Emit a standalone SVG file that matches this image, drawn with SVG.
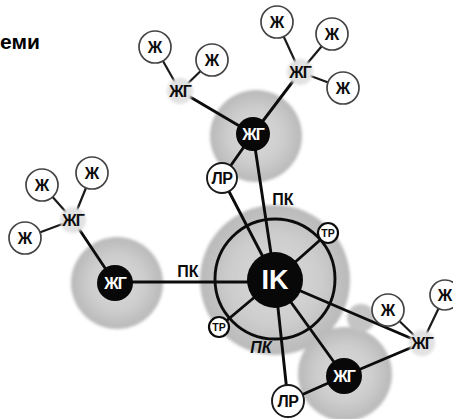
<svg xmlns="http://www.w3.org/2000/svg" width="453" height="419" viewBox="0 0 453 419">
<defs>
<filter id="blur" x="-30%" y="-30%" width="160%" height="160%"><feGaussianBlur stdDeviation="1.8"/></filter>
<filter id="soft" x="-50%" y="-50%" width="200%" height="200%"><feGaussianBlur stdDeviation="1.5"/></filter>
<radialGradient id="halo" cx="50%" cy="50%" r="50%">
<stop offset="0" stop-color="#dadada"/>
<stop offset="0.6" stop-color="#cdcdcd"/>
<stop offset="1" stop-color="#b9b9b9"/>
</radialGradient>
<style>
text{font-family:"Liberation Sans",Arial,sans-serif;font-weight:bold;text-anchor:middle;dominant-baseline:central}
.ln{stroke:#0c0c0c;stroke-width:2.9;fill:none;stroke-linecap:round}
.tn{stroke:#1a1a1a;stroke-width:2.2;fill:none}
.zh{fill:#fff;stroke:#444;stroke-width:1.7}
.zht{font-size:16px;fill:#0c0c0c}
.lg{fill:#e2e2e2}
.lgt{font-size:16px;fill:#0c0c0c;letter-spacing:-1px}
.blk{fill:#080808}
.blkt{font-size:16px;fill:#fff;letter-spacing:-1px}
.lr{fill:#fff;stroke:#1a1a1a;stroke-width:1.9}
.lrt{font-size:16px;fill:#0c0c0c;letter-spacing:-0.5px}
.tr{fill:#fff;stroke:#0c0c0c;stroke-width:2.2}
.trt{font-size:10.5px;fill:#0c0c0c}
.lab{font-size:16px;fill:#0c0c0c}
</style>
</defs>
<rect width="453" height="419" fill="#fff"/>
<text x="20" y="41" style="font-size:21px">еми</text>

<g id="halos" filter="url(#blur)">
<circle cx="275" cy="280" r="75" fill="url(#halo)"/>
<circle cx="345" cy="374" r="47" fill="url(#halo)"/>
<circle cx="361" cy="318" r="14" fill="#c4c4c4"/>
<circle cx="256" cy="136" r="46" fill="url(#halo)"/>
<circle cx="117" cy="283" r="46" fill="url(#halo)"/>
</g>

<g id="connectors">
<circle cx="275" cy="279" r="60" class="ln"/>
<line class="ln" x1="115" y1="282" x2="275" y2="282"/>
<line class="ln" x1="253" y1="134" x2="275" y2="280"/>
<line class="ln" x1="222" y1="178" x2="275" y2="280"/>
<line class="ln" x1="275" y1="280" x2="328" y2="233"/>
<line class="ln" x1="275" y1="280" x2="219" y2="327"/>
<line class="ln" x1="275" y1="280" x2="422" y2="343"/>
<line class="ln" x1="275" y1="280" x2="344" y2="376"/>
<line class="ln" x1="275" y1="280" x2="288" y2="401"/>
<line class="ln" x1="288" y1="401" x2="344" y2="376"/>
<line class="ln" x1="344" y1="376" x2="422" y2="343"/>
<line class="ln" x1="253" y1="134" x2="222" y2="178"/>
<line class="ln" x1="253" y1="134" x2="180" y2="91"/>
<line class="ln" x1="253" y1="134" x2="300" y2="72"/>
<line class="ln" x1="115" y1="283" x2="73" y2="220"/>
<line class="tn" x1="180" y1="91" x2="155" y2="47"/>
<line class="tn" x1="180" y1="91" x2="212" y2="60"/>
<line class="tn" x1="300" y1="72" x2="277" y2="22"/>
<line class="tn" x1="300" y1="72" x2="332" y2="34"/>
<line class="tn" x1="300" y1="72" x2="343" y2="88"/>
<line class="tn" x1="73" y1="220" x2="42" y2="185"/>
<line class="tn" x1="73" y1="220" x2="92" y2="173"/>
<line class="tn" x1="73" y1="220" x2="25" y2="238"/>
<line class="tn" x1="422" y1="343" x2="388" y2="310"/>
<line class="tn" x1="422" y1="343" x2="445" y2="295"/>
</g>

<g id="labels">
<text class="lab" x="283" y="199">ПК</text>
<text class="lab" x="188" y="271">ПК</text>
<text class="lab" x="261" y="347" style="font-style:italic">ПК</text>
</g>

<g id="IK"><circle cx="275" cy="280" r="28" class="blk"/><text x="275" y="280" style="font-size:27px;fill:#fff">IK</text></g>
<g id="TR1"><circle cx="328" cy="233" r="10" class="tr"/><text class="trt" x="328" y="233">ТР</text></g>
<g id="TR2"><circle cx="219" cy="327" r="10" class="tr"/><text class="trt" x="219" y="327">ТР</text></g>

<g id="ZhG-top"><circle cx="253" cy="134" r="17" class="blk"/><text class="blkt" x="253" y="134">ЖГ</text></g>
<g id="ZhG-left"><circle cx="115" cy="283" r="18" class="blk"/><text class="blkt" x="115" y="283">ЖГ</text></g>
<g id="ZhG-bottom"><circle cx="344" cy="376" r="18" class="blk"/><text class="blkt" x="344" y="376">ЖГ</text></g>

<g id="LR-top"><circle cx="222" cy="178" r="15" class="lr"/><text class="lrt" x="222" y="178">ЛР</text></g>
<g id="LR-bottom"><circle cx="288" cy="401" r="16" class="lr"/><text class="lrt" x="288" y="401">ЛР</text></g>

<g id="zhg-tl"><circle cx="180" cy="91" r="13" class="lg" filter="url(#soft)"/><text class="lgt" x="180" y="91">ЖГ</text></g>
<g id="zhg-tr"><circle cx="300" cy="72" r="13" class="lg" filter="url(#soft)"/><text class="lgt" x="300" y="72">ЖГ</text></g>
<g id="zhg-l"><circle cx="73" cy="220" r="13" class="lg" filter="url(#soft)"/><text class="lgt" x="73" y="220">ЖГ</text></g>
<g id="zhg-br"><circle cx="422" cy="343" r="13" class="lg" filter="url(#soft)"/><text class="lgt" x="422" y="343">ЖГ</text></g>

<g id="zh1"><circle cx="155" cy="47" r="16" class="zh"/><text class="zht" x="155" y="47">Ж</text></g>
<g id="zh2"><circle cx="212" cy="60" r="16" class="zh"/><text class="zht" x="212" y="60">Ж</text></g>
<g id="zh3"><circle cx="277" cy="22" r="16" class="zh"/><text class="zht" x="277" y="22">Ж</text></g>
<g id="zh4"><circle cx="332" cy="34" r="16" class="zh"/><text class="zht" x="332" y="34">Ж</text></g>
<g id="zh5"><circle cx="343" cy="88" r="16" class="zh"/><text class="zht" x="343" y="88">Ж</text></g>
<g id="zh6"><circle cx="42" cy="185" r="16" class="zh"/><text class="zht" x="42" y="185">Ж</text></g>
<g id="zh7"><circle cx="92" cy="173" r="16" class="zh"/><text class="zht" x="92" y="173">Ж</text></g>
<g id="zh8"><circle cx="25" cy="238" r="16" class="zh"/><text class="zht" x="25" y="238">Ж</text></g>
<g id="zh9"><circle cx="388" cy="310" r="16" class="zh"/><text class="zht" x="388" y="310">Ж</text></g>
<g id="zh10"><circle cx="445" cy="295" r="15" class="zh"/><text class="zht" x="445" y="295">Ж</text></g>
</svg>
